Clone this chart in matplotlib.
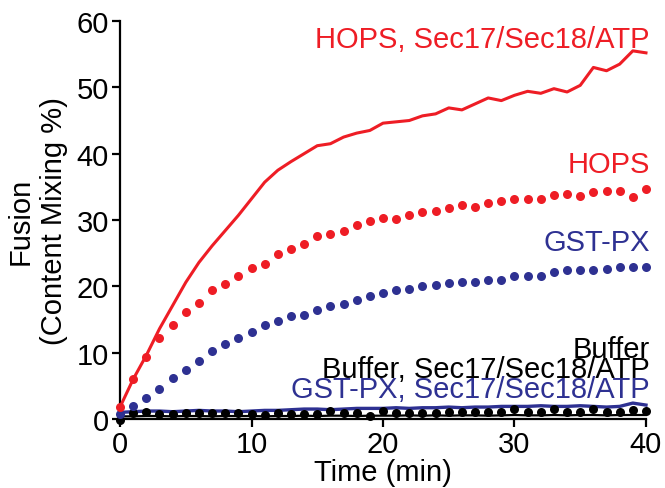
import numpy as np
import matplotlib
matplotlib.use("Agg")
import matplotlib.pyplot as plt

plt.rcParams['font.family'] = ['Liberation Sans', 'DejaVu Sans']

RED = '#ee1d25'
BLUE = '#2e3192'

minutes = list(range(41))

# HOPS, Sec17/Sec18/ATP (solid red)
hops_sec = [1.8, 6.0, 9.6, 13.6, 17.1, 20.6, 23.6, 26.1, 28.4, 30.7,
            33.2, 35.7, 37.5, 38.8, 40.0, 41.2, 41.5, 42.5, 43.1, 43.5,
            44.6, 44.8, 45.0, 45.7, 46.0, 46.9, 46.6, 47.5, 48.4, 48.0,
            48.8, 49.4, 49.1, 49.8, 49.3, 50.3, 53.0, 52.5, 53.5, 55.5, 55.2]

# HOPS (red dots)
hops = [1.8, 6.0, 9.4, 12.2, 14.2, 16.2, 17.5, 19.5, 20.3, 21.6,
        22.7, 23.4, 24.9, 25.7, 26.4, 27.6, 27.9, 28.4, 29.2, 29.8,
        30.3, 30.1, 30.8, 31.2, 31.4, 31.8, 32.2, 31.9, 32.5, 32.9,
        33.2, 33.2, 33.2, 33.8, 33.9, 33.6, 34.2, 34.3, 34.3, 33.5, 34.6]

# GST-PX (blue dots)
gstpx = [0.8, 1.9, 3.1, 4.5, 6.2, 7.4, 8.7, 10.2, 11.3, 12.2,
         13.1, 14.1, 14.8, 15.5, 15.7, 16.4, 17.1, 17.3, 18.0, 18.6,
         19.0, 19.4, 19.6, 20.1, 20.2, 20.5, 20.6, 20.7, 21.0, 21.0,
         21.6, 21.6, 21.6, 22.2, 22.4, 22.5, 22.5, 22.6, 22.9, 22.9, 22.9]

# GST-PX, Sec17/Sec18/ATP (solid blue)
gstpx_sec = [1.0, 1.1, 1.2, 1.2, 1.1, 1.2, 1.3, 1.2, 1.2, 1.1,
             1.2, 1.3, 1.3, 1.4, 1.5, 1.5, 1.4, 1.5, 1.6, 1.6,
             1.6, 1.7, 1.6, 1.7, 1.7, 1.8, 1.7, 1.8, 1.8, 1.9,
             1.9, 1.9, 2.0, 1.9, 1.9, 2.0, 1.9, 1.8, 1.9, 2.4, 2.1]

# Buffer (black dots)
buffer = [-0.2, 0.9, 1.1, 0.8, 0.75, 0.85, 0.9, 0.85, 0.85, 0.9,
          0.8, 0.6, 0.85, 0.8, 0.75, 0.75, 1.15, 0.85, 0.85, 0.5,
          1.15, 0.85, 0.9, 0.9, 0.85, 1.1, 1.1, 1.1, 1.1, 1.0,
          1.5, 1.0, 1.0, 1.5, 1.0, 1.1, 1.5, 1.0, 1.1, 1.3, 1.2]

# Buffer, Sec17/Sec18/ATP (solid black)
buffer_sec = [0.4, 0.4, 0.45, 0.45, 0.4, 0.45, 0.45, 0.4, 0.45, 0.45,
              0.45, 0.4, 0.45, 0.45, 0.5, 0.45, 0.5, 0.5, 0.45, 0.5,
              0.5, 0.5, 0.55, 0.5, 0.55, 0.5, 0.55, 0.55, 0.5, 0.55,
              0.6, 0.55, 0.55, 0.6, 0.55, 0.6, 0.6, 0.55, 0.6, 0.6, 0.6]

fig = plt.figure(figsize=(6.65, 4.89), dpi=100)
ax = fig.add_axes([0.1805, 0.1411, 0.7909, 0.8139])

ax.plot(minutes, buffer_sec, color='black', lw=1.6, clip_on=False, zorder=2)
ax.plot(minutes, buffer, 'o', color='black', ms=6.5, mec='none', clip_on=False, zorder=4)
ax.plot(minutes, gstpx_sec, color=BLUE, lw=2.4, clip_on=False, zorder=3)
ax.plot(minutes, gstpx, 'o', color=BLUE, ms=6.5, mec='none', clip_on=False, zorder=4)
ax.plot(minutes, hops_sec, color=RED, lw=2.2, clip_on=False, zorder=3)
ax.plot(minutes, hops, 'o', color=RED, ms=6.5, mec='none', clip_on=False, zorder=4)

fs = 21
ax.text(40.3, 57.3, 'HOPS, Sec17/Sec18/ATP', color=RED, fontsize=fs, ha='right', va='center')
ax.text(40.3, 38.5, 'HOPS', color=RED, fontsize=fs, ha='right', va='center')
ax.text(40.3, 26.7, 'GST-PX', color=BLUE, fontsize=fs, ha='right', va='center')
ax.text(40.3, 10.6, 'Buffer', color='black', fontsize=fs, ha='right', va='center')
ax.text(40.3, 7.5, 'Buffer, Sec17/Sec18/ATP', color='black', fontsize=fs, ha='right', va='center')
ax.text(40.3, 4.5, 'GST-PX, Sec17/Sec18/ATP', color=BLUE, fontsize=fs, ha='right', va='center')

ax.set_xlim(0, 40)
ax.set_ylim(0, 60)
ax.set_xticks([0, 10, 20, 30, 40])
ax.set_yticks([0, 10, 20, 30, 40, 50, 60])
for s in ['top', 'right']:
    ax.spines[s].set_visible(False)
for s in ['left', 'bottom']:
    ax.spines[s].set_linewidth(1.6)
ax.tick_params(width=1.6, length=6, labelsize=fs, pad=2)

ax.set_xlabel('Time (min)', fontsize=fs, labelpad=0)
ax.set_ylabel('Fusion\n(Content Mixing %)', fontsize=fs, labelpad=6, linespacing=1.25)

plt.savefig('out.png', dpi=100)
